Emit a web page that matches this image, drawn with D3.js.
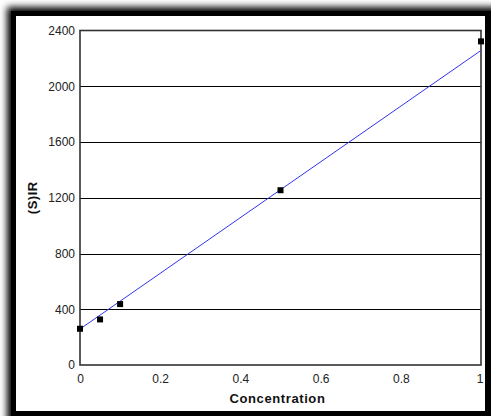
<!DOCTYPE html>
<html><head><meta charset="utf-8">
<script src="https://cdn.jsdelivr.net/npm/d3@7"></script>
<style>html,body{margin:0;padding:0;background:#fff;overflow:hidden}svg{display:block}</style>
</head><body>
<script>
const concentration = [0, 0.05, 0.1, 0.5, 1];
const signal = [260, 327, 437, 1254, 2322];
const trendX = [0, 1];
const trendY = [258, 2257];
const xTicks = [0, 0.2, 0.4, 0.6, 0.8, 1];
const yTicks = [0, 400, 800, 1200, 1600, 2000, 2400];
const xTitle = "Concentration";
const yTitle = "(S)IR";

const W = 491, H = 416;
const FONT = "Liberation Sans, Arial, sans-serif";
const svg = d3.select("body").append("svg").attr("width", W).attr("height", H);
const defs = svg.append("defs");
defs.append("filter").attr("id","blur").attr("x","-20%").attr("y","-20%").attr("width","140%").attr("height","140%")
  .append("feGaussianBlur").attr("stdDeviation", 3.5);

// frame
svg.append("rect").attr("x",0).attr("y",0).attr("width",W).attr("height",H).attr("fill","#fff");
svg.append("rect").attr("x",7).attr("y",7).attr("width",W+40).attr("height",H+40).attr("fill","#000").attr("filter","url(#blur)");
svg.append("rect").attr("x",11).attr("y",11).attr("width",W).attr("height",H).attr("fill","#000");
svg.append("rect").attr("x",16).attr("y",16).attr("width",485-16).attr("height",411-16).attr("fill","#fff");

const m = {l:80, r:481, t:30.5, b:365};
const x = d3.scaleLinear().domain([0,1]).range([m.l, m.r]);
const y = d3.scaleLinear().domain([0,2400]).range([m.b, m.t]);

// grid
svg.append("g").selectAll("line").data(yTicks.slice(1,-1)).join("line")
  .attr("x1", m.l).attr("x2", m.r).attr("y1", d=>Math.round(y(d))+0.5).attr("y2", d=>Math.round(y(d))+0.5)
  .attr("stroke","#000").attr("stroke-width",1);

// axes labels
const yAxis = d3.axisLeft(y).tickValues(yTicks).tickSize(0).tickPadding(5).tickFormat(d3.format("d"));
const gy = svg.append("g").attr("transform",`translate(${m.l},0)`).call(yAxis);
gy.select(".domain").remove();
gy.selectAll("text").attr("font-family",FONT).attr("font-size",12).attr("fill","#222");

const xAxis = d3.axisBottom(x).tickValues(xTicks).tickSize(0).tickPadding(9).tickFormat(d=>String(d));
const gx = svg.append("g").attr("transform",`translate(0,${m.b})`).call(xAxis);
gx.select(".domain").remove();
gx.selectAll("text").attr("font-family",FONT).attr("font-size",12).attr("fill","#222");
gx.selectAll("text").filter(d=>d===1).attr("dx",-1.5);

// border
svg.append("rect").attr("x",m.l).attr("y",m.t).attr("width",m.r-m.l).attr("height",m.b-m.t)
  .attr("fill","none").attr("stroke","#333").attr("stroke-width",1.6);

// trend line
svg.append("line").attr("x1",x(trendX[0])).attr("y1",y(trendY[0])).attr("x2",x(trendX[1])).attr("y2",y(trendY[1]))
  .attr("stroke","#3333ee").attr("stroke-width",1);

// points
svg.append("g").selectAll("rect").data(concentration.map((c,i)=>[c,signal[i]])).join("rect")
  .attr("x",d=>x(d[0])-3).attr("y",d=>y(d[1])-3).attr("width",6).attr("height",6).attr("fill","#000");

// titles
svg.append("text").attr("x",(m.l+m.r)/2 - 3).attr("y",403).attr("text-anchor","middle")
  .attr("font-family",FONT).attr("font-size",13).attr("letter-spacing",0.6).attr("font-weight","bold").attr("fill","#111").text(xTitle);
svg.append("text").attr("transform",`translate(37,${(m.t+m.b)/2}) rotate(-90)`).attr("text-anchor","middle")
  .attr("font-family",FONT).attr("font-size",13).attr("letter-spacing",0.5).attr("font-weight","bold").attr("fill","#111").text(yTitle);
</script>
</body></html>
